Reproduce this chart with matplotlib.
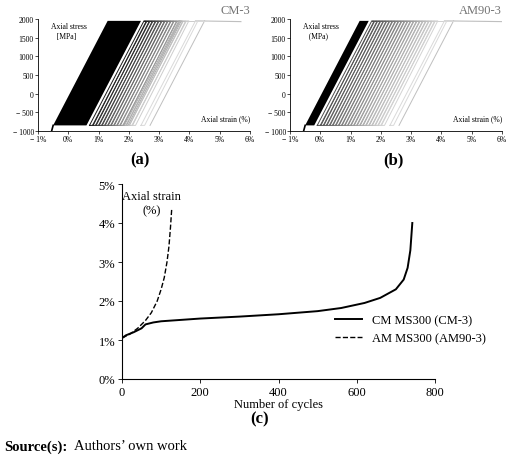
import matplotlib
matplotlib.use("Agg")
import matplotlib.pyplot as plt
import numpy as np

plt.rcParams['font.family'] = ['Liberation Serif', 'DejaVu Serif']

# panel (c) data
cm_cycles = [0, 10, 30, 50, 60, 80, 100, 200, 300, 400, 500, 560, 620, 660, 700, 720, 730, 737, 742]
cm_strain = [1.05, 1.12, 1.2, 1.3, 1.4, 1.45, 1.48, 1.55, 1.6, 1.66, 1.74, 1.82, 1.95, 2.08, 2.3, 2.55, 2.85, 3.3, 4.0]
am_cycles = [0, 20, 40, 60, 75, 90, 100, 108, 115, 120, 124, 127]
am_strain = [1.05, 1.15, 1.3, 1.5, 1.7, 2.0, 2.3, 2.6, 3.0, 3.4, 3.9, 4.35]

# panel (a)/(b): loop starting strains (%) at minimum stress
a_dense = (-0.5, 0.6)      # black band of loops
a_loops = [0.7, 0.8, 0.9, 1.0, 1.1, 1.2, 1.3, 1.4, 1.5, 1.6, 1.7, 1.8, 1.85, 1.9, 2.0, 2.1, 2.4]
b_dense = (-0.5, -0.2)
b_loops = [-0.1, 0.0, 0.1, 0.2, 0.3, 0.4, 0.5, 0.6, 0.7, 0.8, 0.9, 1.0, 1.1, 1.2, 1.3, 1.4, 1.5, 1.6, 1.7, 1.8, 1.9, 2.0, 2.3]
smin, smax = -850, 1950
yticks_ab = [-1000, -500, 0, 500, 1000, 1500, 2000]
xticks_ab = [-1, 0, 1, 2, 3, 4, 5, 6]
xticklabels_ab = ['\u2212 1%', '0%', '1%', '2%', '3%', '4%', '5%', '6%']
yticklabels_ab = ['\u2212 1000', '\u2212 500', '0', '500', '1000', '1500', '2000']

fig = plt.figure(figsize=(5.2, 4.6), dpi=100)
W, H = 520, 460
def ax_px(l, t, r, b):
    return fig.add_axes([l / W, 1 - b / H, (r - l) / W, (b - t) / H])

def loop_panel(ax, dense, loops, title, end, g0):
    ex = 1.8
    x0, x1 = dense
    ax.fill([x0, x1, x1 + ex, x0 + ex], [smin, smin, smax, smax], color='black', lw=0, zorder=2)
    ax.plot([x0 - 0.05, x0], [-1000, smin], color='black', lw=1.2)
    n = len(loops)
    for i, x in enumerate(loops):
        g = g0 + (0.85 - g0) * i / max(n - 1, 1)
        xs = [x, x + ex, x + ex + 0.08, x + 0.12, x]
        ys = [smin, smax, smax, smin, smin]
        ax.plot(xs, ys, color=str(g), lw=0.7, zorder=3)
        ax.plot([x + ex, x + ex + 0.4], [smax, smax], color=str(g), lw=0.7, zorder=3)
    last = loops[-1]
    ax.plot([last + ex, end], [smax, smax - 20], color='0.75', lw=0.8)
    ax.plot([last + 0.3, last + 0.3 + 1.8], [smin, smax], color='0.75', lw=0.7)
    ax.set_xlim(-1, 6)
    ax.set_ylim(-1000, 2000)
    ax.set_xticks(xticks_ab)
    ax.set_xticklabels(xticklabels_ab)
    ax.set_yticks(yticks_ab)
    ax.set_yticklabels(yticklabels_ab)
    ax.tick_params(labelsize=5.5, length=2, width=0.5, pad=1)
    for s in ['top', 'right']:
        ax.spines[s].set_visible(False)
    for s in ['left', 'bottom']:
        ax.spines[s].set_linewidth(0.6)
    ax.text(1.0, 1.13, title, transform=ax.transAxes, ha='right', va='top', fontsize=9, color='0.45')
    ax.text(1.0, 0.1, 'Axial strain (%)', transform=ax.transAxes, ha='right', fontsize=5.5)

axa = ax_px(38, 20, 250, 132)
loop_panel(axa, a_dense, a_loops, 'CM-3', 5.7, 0.1)
axa.text(0.06, 0.97, 'Axial stress\n   [MPa]', transform=axa.transAxes, va='top', fontsize=5.5)
axb = ax_px(290, 20, 502, 132)
loop_panel(axb, b_dense, b_loops, 'AM90-3', 6.0, 0.3)
axb.text(0.06, 0.97, 'Axial stress\n   (MPa)', transform=axb.transAxes, va='top', fontsize=5.5)
fig.text(140 / W, 1 - 160 / H, '(a)', fontsize=12, fontweight='bold', ha='center', va='center')
fig.text(393 / W, 1 - 160 / H, '(b)', fontsize=12, fontweight='bold', ha='center', va='center')

axc = ax_px(122, 185, 435, 380)
axc.plot(cm_cycles, cm_strain, color='black', lw=1.4, label='CM MS300 (CM-3)')
axc.plot(am_cycles, am_strain, color='black', lw=1.0, ls='--', label='AM MS300 (AM90-3)')
axc.set_xlim(0, 800)
axc.set_ylim(0, 5)
axc.set_xticks([0, 200, 400, 600, 800])
axc.set_yticks([0, 1, 2, 3, 4, 5])
axc.set_yticklabels([f'{v}%' for v in range(6)])
axc.tick_params(labelsize=9, length=3, width=0.6, pad=2)
for s in ['top', 'right']:
    axc.spines[s].set_visible(False)
axc.set_xlabel('Number of cycles', fontsize=9, labelpad=0)
axc.text(75, 4.25, 'Axial strain\n(%)', ha='center', fontsize=9)
axc.legend(loc='lower right', bbox_to_anchor=(1.2, 0.12), frameon=False, fontsize=9, handlelength=2.2)
fig.text(260 / W, 1 - 419 / H, '(c)', fontsize=12, fontweight='bold', ha='center', va='center')

fig.text(4 / W, 1 - 447 / H, 'Source(s):', fontsize=10.5, fontweight='bold', va='center')
fig.text(74 / W, 1 - 447 / H, 'Authors\u2019 own work', fontsize=10.5, va='center')

fig.savefig('out.png', dpi=100)
